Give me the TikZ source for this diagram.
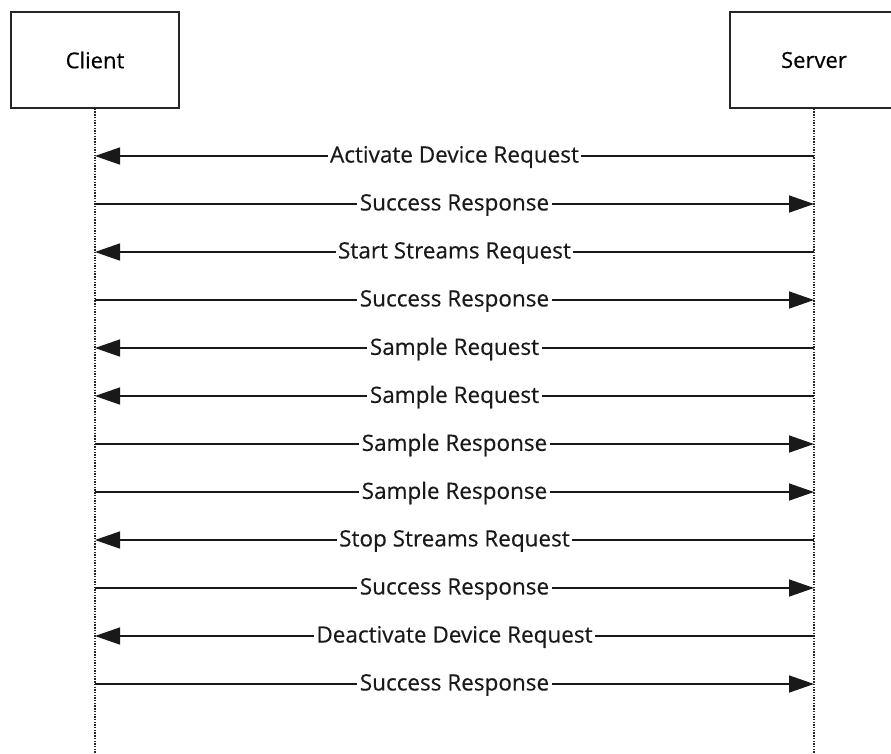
\documentclass[tikz,border=0pt]{standalone}
\usepackage{fontspec}
\setmainfont{Open Sans}[FakeBold=0.4]
\newfontfamily\lblfont{Open Sans}[FakeBold=0.4]
\usetikzlibrary{arrows.meta}
\begin{document}
\begin{tikzpicture}[x=1pt,y=-1pt,
  actor/.style={draw=black!85,line width=1.4pt,minimum width=168pt,minimum height=96pt,inner sep=0pt,font=\lblfont\fontsize{22}{26}\selectfont},
  lifeline/.style={black!85,line width=1.2pt,dash pattern=on 1.4pt off 1.3pt},
  msg/.style={black!90,line width=1.6pt,-{Triangle[length=25pt,width=17pt]}},
  lbl/.style={fill=white,inner xsep=2.5pt,inner ysep=1pt,yshift=-1pt,font=\lblfont\fontsize{22.5}{26}\selectfont}]
\useasboundingbox (0,0) rectangle (891,753);
\clip (0,0) rectangle (891,753);
\node[actor] (client) at (95,60) {Client};
\node[actor] (server) at (814,60) {Server};
\coordinate (cend) at (95,753);
\coordinate (send) at (814,753);
\draw[lifeline] (client.south) -- (cend);
\draw[lifeline] (server.south) -- (send);
\foreach \i/\y/\dir/\t in {
  1/156/l/Activate Device Request,
  2/204/r/Success Response,
  3/252/l/Start Streams Request,
  4/300/r/Success Response,
  5/348/l/Sample Request,
  6/396/l/Sample Request,
  7/444/r/Sample Response,
  8/492/r/Sample Response,
  9/540/l/Stop Streams Request,
  10/588/r/Success Response,
  11/636/l/Deactivate Device Request,
  12/684/r/Success Response}{
  \coordinate (c\i) at (client.south |- 0,\y);
  \coordinate (s\i) at (server.south |- 0,\y);
  \if l\dir
    \draw[msg] (s\i) -- (c\i) node[lbl,midway] (m\i) {\t};
  \else
    \draw[msg] (c\i) -- (s\i) node[lbl,midway] (m\i) {\t};
  \fi
}
\end{tikzpicture}
\end{document}
